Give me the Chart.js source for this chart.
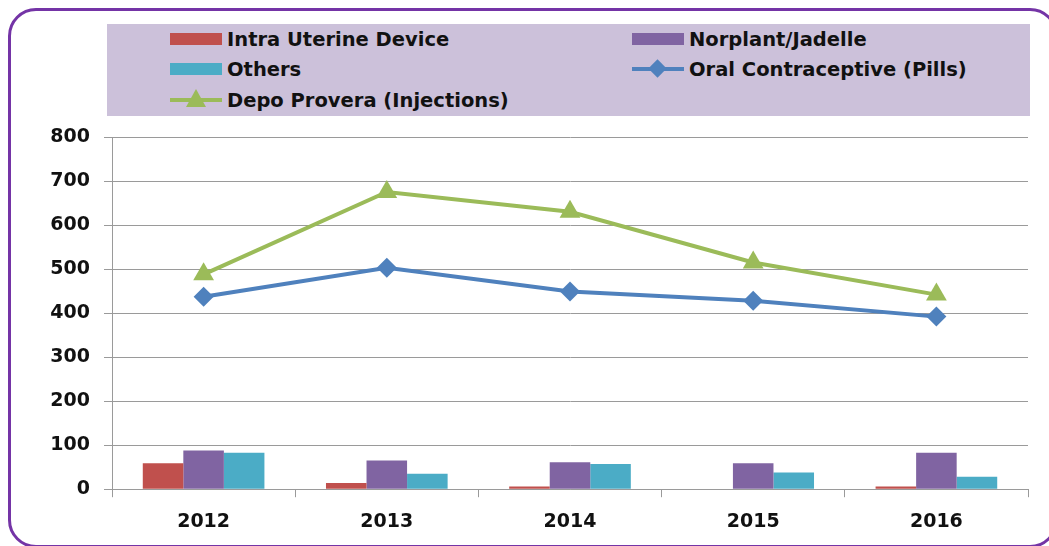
<!DOCTYPE html>
<html>
<head>
<meta charset="utf-8">
<script src="https://cdn.jsdelivr.net/npm/chart.js@4"></script>
<style>
  html, body { margin: 0; padding: 0; background: #fff; overflow: hidden; }
  #wrap { position: relative; width: 1049px; height: 546px; }
  #frame {
    position: absolute; left: 8px; top: 8px; width: 1050px; height: 540px;
    border: 3.5px solid #7434a6; border-radius: 28px; box-sizing: border-box;
  }
  #chart { position: absolute; left: 0; top: 0; }
  #legend {
    position: absolute; left: 107px; top: 24px; width: 923px; height: 92px;
    background: #ccc1da; font-family: "DejaVu Sans", sans-serif; font-weight: bold;
    font-size: 19.5px; color: #111;
  }
  .item { position: absolute; height: 30px; display: flex; align-items: center; white-space: nowrap; }
  .key { position: relative; width: 52px; height: 30px; margin-right: 5px; }
  .box { position: absolute; left: 0; top: 9px; width: 52px; height: 12px; }
  .ln { position: absolute; left: 0; top: 13px; width: 52px; height: 4px; }
  .dia { position: absolute; left: 19px; top: 8px; width: 13px; height: 13px; transform: rotate(45deg); }
  .tri { position: absolute; left: 16px; top: 4px; width: 0; height: 0;
         border-left: 10px solid transparent; border-right: 10px solid transparent; border-bottom: 18px solid; }
</style>
</head>
<body>
<div id="wrap">
  <div id="frame"></div>
  <canvas id="chart" width="1049" height="546"></canvas>
  <div id="legend"></div>
</div>
<script>
const years = ["2012", "2013", "2014", "2015", "2016"];

const iud = [59, 14, 6, 0, 6];
const norplant = [88, 65, 61, 59, 83];
const others = [83, 35, 57, 38, 28];
const oralPills = [437, 503, 449, 428, 392];
const depoProvera = [488, 675, 630, 515, 442];

const yTicks = [0, 100, 200, 300, 400, 500, 600, 700, 800];

const tickFont = { family: "DejaVu Sans", size: 19, weight: "bold" };

const chart = new Chart(document.getElementById("chart"), {
    data: {
        labels: years,
        datasets: [
            { type: "bar", label: "Intra Uterine Device", data: iud, backgroundColor: "#c0504d", order: 2 },
            { type: "bar", label: "Norplant/Jadelle", data: norplant, backgroundColor: "#8064a2", order: 2 },
            { type: "bar", label: "Others", data: others, backgroundColor: "#4bacc6", order: 2 },
            {
                type: "line", label: "Oral Contraceptive (Pills)", data: oralPills,
                borderColor: "#4f81bd", backgroundColor: "#4f81bd", borderWidth: 4,
                pointStyle: "rectRot", pointRadius: 10, pointBorderWidth: 0, order: 1
            },
            {
                type: "line", label: "Depo Provera (Injections)", data: depoProvera,
                borderColor: "#9bbb59", backgroundColor: "#9bbb59", borderWidth: 4,
                pointStyle: "triangle", pointRadius: 12, pointBorderWidth: 0, order: 0
            }
        ]
    },
    options: {
        responsive: false,
        animation: false,
        layout: { padding: { left: 0, top: 137, right: 21, bottom: 0 } },
        datasets: { bar: { barPercentage: 1, categoryPercentage: 0.664 } },
        plugins: { legend: { display: false }, tooltip: { enabled: false } },
        scales: {
            x: {
                type: "category",
                grid: { offset: true, drawOnChartArea: false, color: "#9a9a9a", tickLength: 8 },
                border: { color: "#9a9a9a" },
                ticks: { font: tickFont, color: "#111", padding: 13 }
            },
            y: {
                min: 0, max: 800,
                afterBuildTicks: (s) => { s.ticks = yTicks.map(v => ({ value: v })); },
                afterFit: (s) => { s.width = 112; },
                grid: { color: "#9a9a9a", tickLength: 8 },
                border: { color: "#9a9a9a" },
                ticks: { font: tickFont, color: "#111", padding: 14 }
            }
        }
    }
});

// legend in two columns, built from the chart's datasets
const legend = document.getElementById("legend");
const spots = [[63, 0], [525, 0], [63, 30], [525, 30], [63, 61]];
chart.data.datasets.forEach((ds, i) => {
    const item = document.createElement("div");
    item.className = "item";
    item.style.left = spots[i][0] + "px";
    item.style.top = spots[i][1] + "px";
    const key = document.createElement("div");
    key.className = "key";
    if (ds.type === "bar") {
        key.innerHTML = `<div class="box" style="background:${ds.backgroundColor}"></div>`;
    } else if (ds.pointStyle === "rectRot") {
        key.innerHTML = `<div class="ln" style="background:${ds.borderColor}"></div>` +
            `<div class="dia" style="background:${ds.borderColor}"></div>`;
    } else {
        key.innerHTML = `<div class="ln" style="background:${ds.borderColor}"></div>` +
            `<div class="tri" style="border-bottom-color:${ds.borderColor}"></div>`;
    }
    const text = document.createElement("span");
    text.textContent = ds.label;
    item.appendChild(key);
    item.appendChild(text);
    legend.appendChild(item);
});
</script>
</body>
</html>
